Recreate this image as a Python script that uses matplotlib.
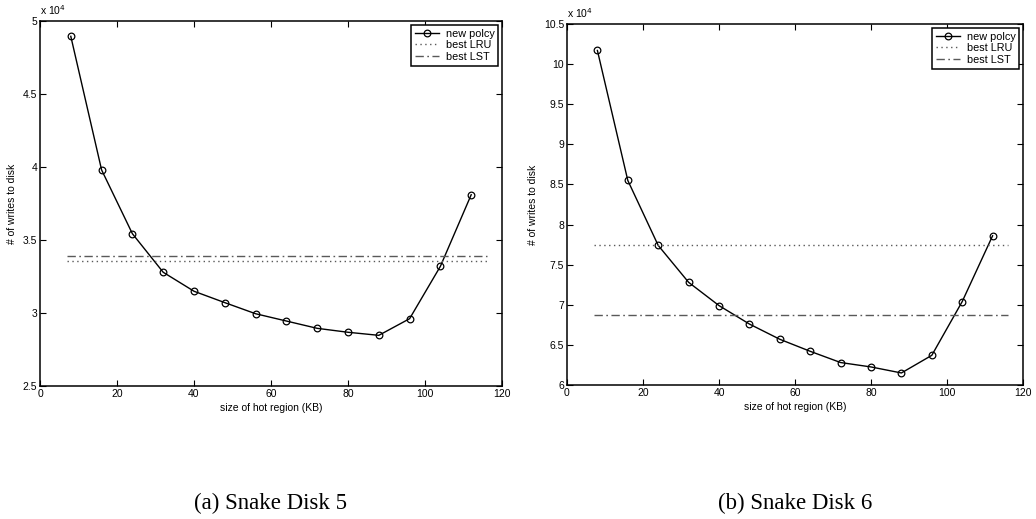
import matplotlib

matplotlib.use("Agg")
import matplotlib.pyplot as plt
from matplotlib.ticker import FuncFormatter, MultipleLocator

plt.rcParams["font.family"] = ["Liberation Sans", "DejaVu Sans"]

# hot region sizes (KB)
hot_kb = [8, 16, 24, 32, 40, 48, 56, 64, 72, 80, 88, 96, 104, 112]
line_span = [7, 116]

# (a) Snake Disk 5
disk5_new = [48950, 39800, 35430, 32790, 31490, 30710, 29950,
             29450, 28950, 28680, 28470, 29610, 33200, 38100]
disk5_lru = 33580
disk5_lst = 33920

# (b) Snake Disk 6
disk6_new = [101700, 85500, 77400, 72800, 69900, 67600, 65700,
             64200, 62800, 62250, 61500, 63700, 70400, 78600]
disk6_lru = 77500
disk6_lst = 68750

W, H = 1036, 519
fig = plt.figure(figsize=(W / 100, H / 100), dpi=100)
fig.patch.set_facecolor("white")


def panel(rect_px, new, lru, lst, ylim, caption):
    # rect given in pixels (left, top, right, bottom) from the reference
    x0, y_top, x1, y_bot = rect_px
    ax = fig.add_axes([x0 / W, 1 - y_bot / H, (x1 - x0) / W, (y_bot - y_top) / H])
    ax.plot(hot_kb, new, color="black", linewidth=1.0, marker="o",
            markersize=4.8, markerfacecolor="none", markeredgewidth=0.9,
            label="new polcy")
    ax.plot(line_span, [lru, lru], color="0.35", linestyle=(0, (1, 2.5)),
            linewidth=1.0, label="best LRU")
    ax.plot(line_span, [lst, lst], color="0.35",
            linestyle=(0, (6, 2.5, 1.2, 2.5)), linewidth=1.0,
            label="best LST")

    ax.set_xlim(0, 120)
    ax.set_ylim(*ylim)
    ax.xaxis.set_major_locator(MultipleLocator(20))
    ax.yaxis.set_major_locator(MultipleLocator(5000))
    ax.yaxis.set_major_formatter(FuncFormatter(lambda v, p: f"{v / 1e4:g}"))
    ax.tick_params(direction="in", top=True, right=True, length=4,
                   width=0.8, labelsize=7.5, pad=2, colors="black")
    for spine in ax.spines.values():
        spine.set_linewidth(1.1)

    ax.set_xlabel("size of hot region (KB)", fontsize=7.5, labelpad=3)
    ax.set_ylabel("# of writes to disk", fontsize=7.5, labelpad=4)
    ax.text(0, 1.012, r"x 10$^4$", transform=ax.transAxes, fontsize=7.5,
            ha="left", va="bottom")

    leg = ax.legend(loc="upper right", fontsize=7.8, frameon=True,
                    fancybox=False, edgecolor="black", framealpha=1,
                    borderaxespad=0.35, handlelength=2.2, labelspacing=0.15,
                    borderpad=0.35, handletextpad=0.6)
    leg.get_frame().set_linewidth(1.1)

    cx = (x0 + x1) / 2 / W
    fig.text(cx, 1 - 503 / H, caption, ha="center", va="center",
             family=["Liberation Serif", "DejaVu Serif"], fontsize=16.5)
    return ax


panel((40, 21, 502, 386), disk5_new, disk5_lru, disk5_lst,
      (25000, 50000), "(a) Snake Disk 5")
panel((567, 24, 1023, 385), disk6_new, disk6_lru, disk6_lst,
      (60000, 105000), "(b) Snake Disk 6")

fig.savefig("out.png", dpi=100, facecolor="white")
